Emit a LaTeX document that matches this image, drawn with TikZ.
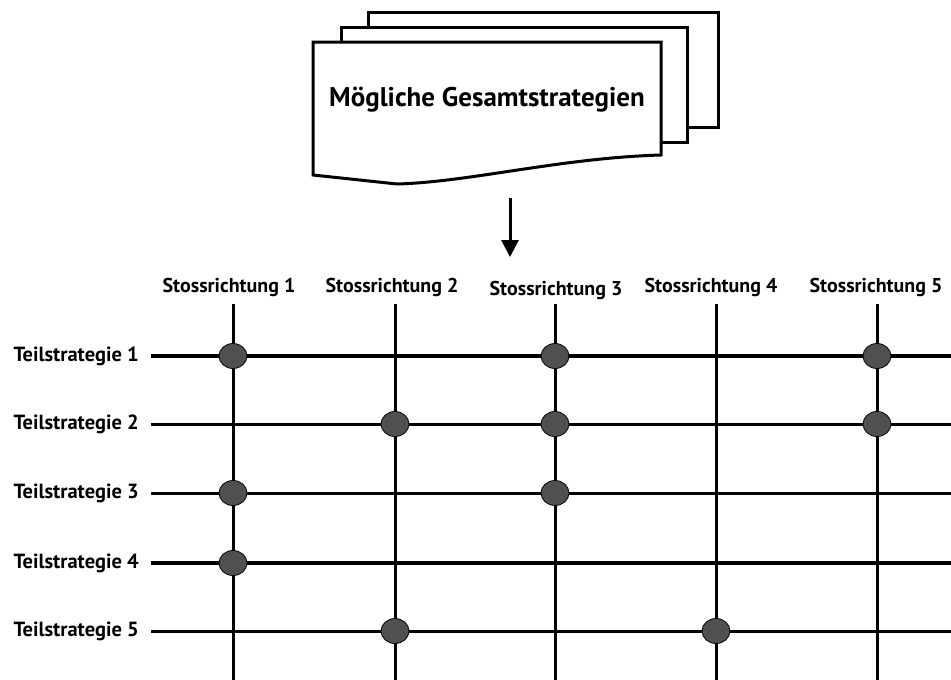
\documentclass[tikz,border=0pt]{standalone}
\usepackage{fontspec}
\setmainfont{PT Sans}
\usetikzlibrary{arrows.meta,shapes.geometric}
\definecolor{hitgray}{HTML}{505050}
\begin{document}
\begin{tikzpicture}[x=1pt,y=-1pt,
  page/.style={draw=black,line width=3pt,fill=white,line join=miter},
  gridline/.style={draw=black,line width=3pt},
  gridbold/.style={draw=black,line width=4pt},
  hit/.style={ellipse,draw=black,line width=0.8pt,fill=hitgray,
    minimum width=28pt,minimum height=25pt,inner sep=0pt},
  collabel/.style={font=\bfseries\fontsize{20}{22}\selectfont,inner sep=0pt},
  rowlabel/.style={font=\bfseries\fontsize{20.5}{22}\selectfont,anchor=east,
    inner xsep=12pt,inner ysep=0pt},
  titlelabel/.style={font=\bfseries\fontsize{27}{30}\selectfont,inner sep=0pt},
  flowarrow/.style={draw=black,line width=3pt,-{Triangle[width=17pt,length=17pt]}}]
\useasboundingbox (0,0) rectangle (951,680);

% stack of strategy sheets, back to front
\draw[page] (368,12) rectangle (718,127);
\draw[page] (341,27) rectangle (687,142);
\draw[page] (313,42) -- (661,42) -- (661,155)
  .. controls (560,158) and (470,182) .. (397,184) -- (313,175) -- cycle;
\node[titlelabel] (title) at (487,100) {Mögliche Gesamtstrategien};

% arrow down to the matrix
\coordinate (arrtop) at (510,198);
\coordinate (arrtip) at (510,257);
\draw[flowarrow] (arrtop) -- (arrtip);

% column heads and their lines
\node[collabel] (s1) at (229,287) {Stossrichtung 1};
\node[collabel] (s2) at (392,287) {Stossrichtung 2};
\node[collabel] (s3) at (556,290) {Stossrichtung 3};
\node[collabel] (s4) at (711,287) {Stossrichtung 4};
\node[collabel] (s5) at (876,287) {Stossrichtung 5};
\foreach \i/\x in {1/233,2/395,3/555,4/716,5/877}{
  \coordinate (ct\i) at (\x,304);
  \coordinate (cb\i) at (\x,680);
}

% row labels and their lines
\node[rowlabel] (t1) at (151,356) {Teilstrategie 1};
\node[rowlabel] (t2) at (151,424) {Teilstrategie 2};
\node[rowlabel] (t3) at (151,493) {Teilstrategie 3};
\node[rowlabel] (t4) at (151,563) {Teilstrategie 4};
\node[rowlabel] (t5) at (151,631) {Teilstrategie 5};
\foreach \i/\y in {1/356,2/424,3/493,4/563,5/631}{
  \coordinate (re\i) at (951,\y);
}

\draw[gridbold] (t1.east) -- (re1);
\draw[gridline] (t2.east) -- (re2);
\draw[gridline] (t3.east) -- (re3);
\draw[gridbold] (t4.east) -- (re4);
\draw[gridline] (t5.east) -- (re5);
\foreach \i in {1,...,5}{
  \draw[gridline] (ct\i) -- (cb\i);
}

% chosen combinations
\node[hit] (h11) at (ct1 |- re1) {};
\node[hit] (h13) at (ct3 |- re1) {};
\node[hit] (h15) at (ct5 |- re1) {};
\node[hit] (h22) at (ct2 |- re2) {};
\node[hit] (h23) at (ct3 |- re2) {};
\node[hit] (h25) at (ct5 |- re2) {};
\node[hit] (h31) at (ct1 |- re3) {};
\node[hit] (h33) at (ct3 |- re3) {};
\node[hit] (h41) at (ct1 |- re4) {};
\node[hit] (h52) at (ct2 |- re5) {};
\node[hit] (h54) at (ct4 |- re5) {};
\end{tikzpicture}
\end{document}
